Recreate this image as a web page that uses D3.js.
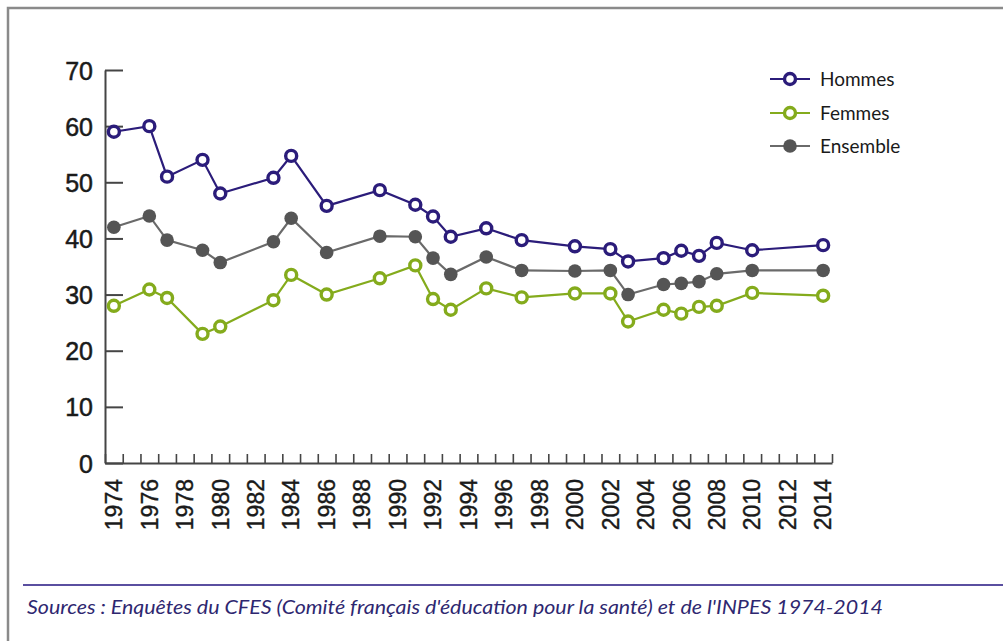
<!DOCTYPE html>
<html>
<head>
<meta charset="utf-8">
<script src="https://cdn.jsdelivr.net/npm/d3@7"></script>
<style>
  body { margin: 0; background: #fff; }
  svg { display: block; }
</style>
</head>
<body>
<div class="graph"></div>
<script>
// data
var years    = [1974, 1976, 1977, 1979, 1980, 1983, 1984, 1986, 1989, 1991, 1992, 1993, 1995, 1997, 2000, 2002, 2003, 2005, 2006, 2007, 2008, 2010, 2014]
var hommes   = [59, 60, 51, 54, 48, 50.8, 54.7, 45.8, 48.6, 46, 43.9, 40.3, 41.8, 39.7, 38.6, 38.1, 35.9, 36.5, 37.8, 36.9, 39.2, 37.9, 38.8]
var femmes   = [28, 30.9, 29.4, 23, 24.3, 29, 33.5, 30, 32.9, 35.2, 29.2, 27.3, 31.1, 29.5, 30.2, 30.2, 25.2, 27.3, 26.6, 27.8, 28, 30.3, 29.8]
var ensemble = [42, 44, 39.7, 37.9, 35.7, 39.4, 43.6, 37.5, 40.4, 40.3, 36.5, 33.6, 36.7, 34.3, 34.2, 34.3, 30, 31.8, 32, 32.3, 33.7, 34.3, 34.3]
var yTicks   = [0, 10, 20, 30, 40, 50, 60, 70]
var xLabels  = [1974, 1976, 1978, 1980, 1982, 1984, 1986, 1988, 1990, 1992, 1994, 1996, 1998, 2000, 2002, 2004, 2006, 2008, 2010, 2012, 2014]
var seriesNames = ['Hommes', 'Femmes', 'Ensemble']
var source = "Sources : Enquêtes du CFES (Comité français d'éducation pour la santé) et de l'INPES 1974-2014"

var W = 1003, H = 641
var navy = '#2b1c7a', green = '#84ab1c', grey = '#555555', axisCol = '#454545'
var numFont = '"Liberation Sans", Arial, sans-serif'

var svg = d3.select('.graph')
    .append('svg')
    .attr('width', W)
    .attr('height', H)

// frame (top and left only)
svg.append('path')
    .attr('d', 'M 8,' + H + ' L 8,8 L ' + W + ',8')
    .style('fill', 'none')
    .style('stroke', '#8a8a8a')
    .style('stroke-width', 2.5)

var x = d3.scaleLinear().domain([1973.5, 2014.5]).range([105, 832])
var y = d3.scaleLinear().domain([0, 70]).range([463, 70])

var canvas = svg.append('g')

// y axis, ticks pointing inward
var yAxis = canvas.append('g')
    .attr('transform', 'translate(105,0)')
    .call(d3.axisRight(y).tickValues(yTicks).tickSize(18).tickSizeOuter(0).tickFormat(''))
yAxis.select('.domain').style('stroke', axisCol).style('stroke-width', 2)
yAxis.selectAll('.tick line').style('stroke', axisCol).style('stroke-width', 2)

canvas.append('g').selectAll('text')
    .data(yTicks)
    .join('text')
    .attr('x', 93)
    .attr('y', function(d) { return y(d) })
    .attr('dy', '0.38em')
    .attr('text-anchor', 'end')
    .style('font-family', numFont)
    .style('font-size', '25px')
    .style('fill', '#1a1a1a')
    .style('stroke', '#1a1a1a')
    .style('stroke-width', 0.5)
    .text(function(d) { return d })

// x axis: a tick between each year
var boundaries = d3.range(x.domain()[0], x.domain()[1] + 0.01, 1)
var xAxis = canvas.append('g')
    .attr('transform', 'translate(0,463)')
    .call(d3.axisTop(x).tickValues(boundaries).tickSize(9).tickSizeOuter(0).tickFormat(''))
xAxis.select('.domain').style('stroke', axisCol).style('stroke-width', 2)
xAxis.selectAll('.tick line').style('stroke', axisCol).style('stroke-width', 1.6)

canvas.append('g').selectAll('text')
    .data(xLabels)
    .join('text')
    .attr('transform', function(d) { return 'translate(' + x(d) + ',479) rotate(-90)' })
    .attr('dy', '0.36em')
    .attr('text-anchor', 'end')
    .style('font-family', numFont)
    .style('font-size', '23px')
    .style('fill', '#1a1a1a')
    .style('stroke', '#1a1a1a')
    .style('stroke-width', 0.4)
    .text(function(d) { return d })

// series
var series = [
    { name: seriesNames[0], values: hommes, color: navy, filled: false },
    { name: seriesNames[1], values: femmes, color: green, filled: false },
    { name: seriesNames[2], values: ensemble, color: grey, filled: true }
]

var line = d3.line()
    .x(function(d) { return x(d[0]) })
    .y(function(d) { return y(d[1]) })

// draw grey first so coloured lines sit on top
;[series[2], series[1], series[0]].forEach(function(s) {
    var pts = years.map(function(yr, i) { return [yr, s.values[i]] })
    canvas.append('path')
        .datum(pts)
        .attr('d', line)
        .style('fill', 'none')
        .style('stroke', s.filled ? '#6a6a6a' : s.color)
        .style('stroke-width', 2.2)
    canvas.append('g').selectAll('circle')
        .data(pts)
        .join('circle')
        .attr('cx', function(d) { return x(d[0]) })
        .attr('cy', function(d) { return y(d[1]) })
        .attr('r', s.filled ? 6.8 : 5.5)
        .style('fill', s.filled ? s.color : '#fff')
        .style('stroke', s.filled ? 'none' : s.color)
        .style('stroke-width', 3.4)
})

// legend
var legend = svg.append('g').attr('transform', 'translate(770,0)')
var legY = [79, 113, 146]
series.forEach(function(s, i) {
    var g = legend.append('g').attr('transform', 'translate(0,' + legY[i] + ')')
    g.append('line')
        .attr('x1', 0).attr('x2', 40)
        .style('stroke', s.filled ? '#6a6a6a' : s.color)
        .style('stroke-width', 2.2)
    g.append('circle')
        .attr('cx', 20)
        .attr('r', s.filled ? 6.8 : 5.5)
        .style('fill', s.filled ? s.color : '#fff')
        .style('stroke', s.filled ? 'none' : s.color)
        .style('stroke-width', 3.4)
    g.append('text')
        .attr('x', 50)
        .attr('dy', '0.36em')
        .style('font-family', 'Lato, "Liberation Sans", sans-serif')
        .style('font-size', '19px')
        .style('fill', '#1a1a1a')
        .text(s.name)
})

// source
svg.append('line')
    .attr('x1', 23).attr('x2', W)
    .attr('y1', 585).attr('y2', 585)
    .style('stroke', '#5a4fa0')
    .style('stroke-width', 2)

svg.append('text')
    .attr('x', 27)
    .attr('y', 614)
    .attr('textLength', 856)
    .attr('lengthAdjust', 'spacingAndGlyphs')
    .style('font-family', 'Lato, "Liberation Sans", sans-serif')
    .style('font-style', 'italic')
    .style('font-size', '19.5px')
    .style('fill', '#2e2770')
    .text(source)
</script>
</body>
</html>
